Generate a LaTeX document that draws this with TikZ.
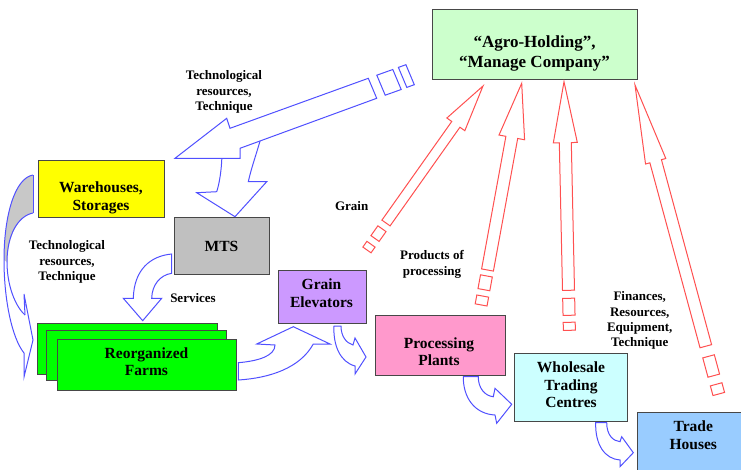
\documentclass[tikz,border=0pt]{standalone}
\usepackage{fontspec}
\setmainfont{Liberation Serif}
\usetikzlibrary{calc}
\definecolor{ablue}{RGB}{80,80,255}
\definecolor{ared}{RGB}{255,80,80}
\definecolor{agro}{RGB}{204,255,204}
\definecolor{whc}{RGB}{255,255,0}
\definecolor{mtsc}{RGB}{192,192,192}
\definecolor{elevc}{RGB}{204,153,255}
\definecolor{farmc}{RGB}{0,255,0}
\definecolor{procc}{RGB}{255,153,204}
\definecolor{wholec}{RGB}{204,255,255}
\definecolor{tradec}{RGB}{153,204,255}
\definecolor{backc}{RGB}{200,200,200}
% #1 tail, #2 tip, #3 shaft half width, #4 head half width, #5 head length,
% #6-#7 first stripe (distance behind tail), #8-#9 second stripe
\newcommand\stripedarrow[9]{%
  \coordinate (hb) at ($(#2)!#5!(#1)$);
  \draw[rarrow] ($(#1)!#3!90:(#2)$) -- ($(hb)!#3!90:(#2)$) -- ($(hb)!#4!90:(#2)$) -- (#2)
    -- ($(hb)!#4!-90:(#2)$) -- ($(hb)!#3!-90:(#2)$) -- ($(#1)!#3!-90:(#2)$) -- cycle;
  \coordinate (sa) at ($(#1)!#6!180:(#2)$);
  \coordinate (sb) at ($(#1)!#7!180:(#2)$);
  \draw[rarrow] ($(sa)!#3!90:(#2)$) -- ($(sb)!#3!90:(#2)$) -- ($(sb)!#3!-90:(#2)$) -- ($(sa)!#3!-90:(#2)$) -- cycle;
  \coordinate (sa) at ($(#1)!#8!180:(#2)$);
  \coordinate (sb) at ($(#1)!#9!180:(#2)$);
  \draw[rarrow] ($(sa)!#3!90:(#2)$) -- ($(sb)!#3!90:(#2)$) -- ($(sb)!#3!-90:(#2)$) -- ($(sa)!#3!-90:(#2)$) -- cycle;
}
\begin{document}
\begin{tikzpicture}[x=1pt,y=-1pt,
  box/.style={draw=black!72, line width=1pt, inner sep=0pt, outer sep=0pt},
  boxtext/.style={font=\fontsize{15.5}{17.5}\selectfont\bfseries, align=center, inner sep=0pt},
  lbl/.style={font=\fontsize{13}{15.3}\selectfont\bfseries, align=center, inner sep=0pt},
  barrow/.style={draw=ablue, line width=1pt, fill=white, line join=miter},
  rarrow/.style={draw=ared, line width=1pt, fill=white, line join=miter}]
\useasboundingbox (0,0) rectangle (741,469);
\clip (0,0) rectangle (741,469);

% ---------- boxes ----------
\node[box, fill=agro, minimum width=205pt, minimum height=70pt] (agro) at (534.5,44) {};
\node[font=\fontsize{17}{20}\selectfont\bfseries, align=center, inner sep=0pt] (agroT) at (534.5,53.5) {“Agro-Holding”,\\“Manage Company”};
\node[box, fill=whc, minimum width=126pt, minimum height=57pt] (wh) at (101,188.5) {};
\node[boxtext] (whT) at (101,198) {Warehouses,\\Storages};
\node[box, fill=mtsc, minimum width=95pt, minimum height=57pt] (mts) at (221.5,245.5) {};
\node[boxtext] (mtsT) at (221.5,246.5) {MTS};
\node[box, fill=elevc, minimum width=88pt, minimum height=53pt] (elev) at (322,296.5) {};
\node[boxtext] (elevT) at (321.5,293) {Grain\\Elevators};
\node[box, fill=farmc, minimum width=180pt, minimum height=51pt] (farm1) at (127.7,349) {};
\node[box, fill=farmc, minimum width=180pt, minimum height=50pt] (farm2) at (136.7,355.3) {};
\node[box, fill=farmc, minimum width=179pt, minimum height=51pt] (farm3) at (147,364.7) {};
\node[boxtext] (farmT) at (146.5,361.5) {Reorganized\\Farms};
\node[box, fill=procc, minimum width=130pt, minimum height=60pt] (proc) at (440,345) {};
\node[boxtext] (procT) at (439,351.5) {Processing\\Plants};
\node[box, fill=wholec, minimum width=113pt, minimum height=68pt] (whole) at (571,387.5) {};
\node[boxtext] (wholeT) at (571,385) {Wholesale\\Trading\\Centres};
\node[box, fill=tradec, minimum width=113pt, minimum height=66pt] (trade) at (693.5,445) {};
\node[boxtext] (tradeT) at (693.3,435) {Trade\\Houses};

% ---------- labels ----------
\node[lbl] (l1) at (224,92) {Technological\\resources,\\Technique};
\node[lbl] (l2) at (67,262) {Technological\\resources,\\Technique};
\node[lbl] (l3) at (193,298) {Services};
\node[lbl] (l4) at (351.7,206.5) {Grain};
\node[lbl] (l5) at (432,264.5) {Products of\\processing};
\node[lbl] (l6) at (639.7,320.8) {Finances,\\Resources,\\Equipment,\\Technique};

% ---------- red striped arrows ----------
\coordinate (r1t) at (386,223);   \coordinate (r1h) at (483,86);
\coordinate (r2t) at (487.5,270); \coordinate (r2h) at (521.7,83.3);
\coordinate (r3t) at (568.5,290.3); \coordinate (r3h) at (564,81.7);
\coordinate (r4t) at (705.8,346.2); \coordinate (r4h) at (635,85);
\stripedarrow{r1t}{r1h}{5pt}{11pt}{47pt}{7pt}{19pt}{26pt}{33pt}
\stripedarrow{r2t}{r2h}{6pt}{13pt}{55pt}{6pt}{20pt}{26.5pt}{35.5pt}
\stripedarrow{r3t}{r3h}{6pt}{12pt}{61pt}{8pt}{25pt}{32pt}{40pt}
\stripedarrow{r4t}{r4h}{6pt}{10.5pt}{79pt}{10.5pt}{30.5pt}{39.5pt}{49.5pt}

% ---------- big blue arrow (from holding) with branch to MTS ----------
\draw[barrow] (222,150) .. controls (222,170) and (219,185) .. (216.7,191.7) -- (196.7,192.7)
  -- (235,216.7) -- (266.7,181.7) -- (248.3,181.7) .. controls (252,165) and (258,150) .. (263,130) -- cycle;
\draw[barrow] (368.3,78.3) -- (230,128.3) -- (226.7,118.3) -- (175,158.3) -- (240,158.3)
  -- (240,148.3) -- (376.7,98.3) -- cycle;
\draw[barrow] (376.8,75.2) -- (392.8,69.5) -- (401.2,89.5) -- (385.2,95.2) -- cycle;
\draw[barrow] (398.4,67.4) -- (405.9,64.7) -- (414.3,84.7) -- (406.8,87.4) -- cycle;

% ---------- left curved arrow (warehouses -> farms) ----------
\fill[backc] (33,213) .. controls (18,216) and (8,235) .. (7,262) -- (4,260)
  .. controls (4,215) and (15,178) .. (33,175) -- cycle;
\draw[draw=ablue, line width=1pt] (33,175) -- (33,213);
\draw[draw=ablue, line width=1pt] (33,175) .. controls (15,178) and (4,215) .. (4,260)
  .. controls (4,300) and (12,338) .. (24,353);
\draw[draw=ablue, line width=1pt] (33,213) .. controls (18,216) and (7,235) .. (7,262)
  .. controls (7,285) and (15,306) .. (25,315);
\draw[draw=ablue, line width=1pt, line join=miter] (25,315) -- (24,294) -- (33,340) -- (24,377) -- (24,353);

% ---------- services arrow (MTS -> farms) ----------
\draw[barrow] (171.7,254) .. controls (150,256) and (134,270) .. (133.3,298.3) -- (123.3,298.3)
  -- (142.7,320.7) -- (161.7,298.3) -- (151.7,298.3) .. controls (152,285) and (160,275) .. (171.7,273.3) -- cycle;

% ---------- farms -> elevators ----------
\draw[barrow] (238.3,362.7) .. controls (258,361) and (275,356) .. (275,345) -- (256.7,344)
  -- (293.3,326.7) -- (330,344) -- (313.3,344) .. controls (300,368) and (270,378) .. (238.3,380) -- cycle;

% ---------- elevators -> processing ----------
\draw[barrow] (334,326) .. controls (333,345) and (340,362) .. (355,366) -- (355,374) -- (366,357)
  -- (355,338) -- (353,345) .. controls (346,343) and (341,336) .. (341,326) -- cycle;

% ---------- processing -> wholesale ----------
\draw[barrow] (463.3,376.5) .. controls (463,398) and (475,414) .. (495,415) -- (496.7,423.3)
  -- (511.7,404.3) -- (495,388.3) -- (493.3,396.7) .. controls (485,396) and (478,388) .. (478.3,376.5) -- cycle;

% ---------- wholesale -> trade ----------
\draw[barrow] (595.7,422.5) .. controls (595,445) and (605,459) .. (620,460) -- (620,466.7)
  -- (633.3,452.7) -- (621.7,436.7) -- (620,441.7) .. controls (613,441) and (606.7,435) .. (606.7,422.5) -- cycle;
\end{tikzpicture}
\end{document}
